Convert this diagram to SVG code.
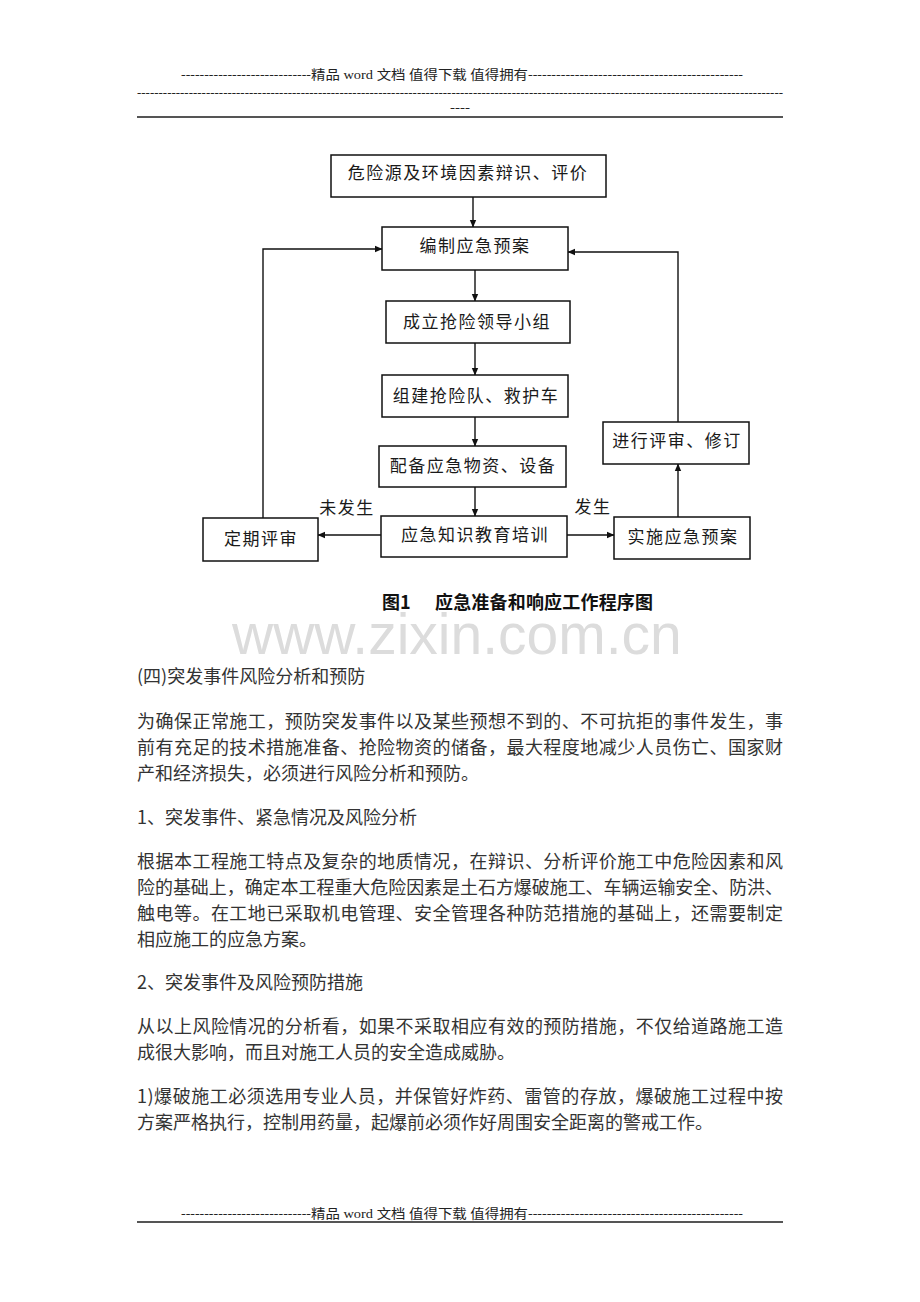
<svg xmlns="http://www.w3.org/2000/svg" width="920" height="1302" viewBox="0 0 920 1302">
<defs>
<marker id="ah" markerWidth="8" markerHeight="8" refX="7" refY="4" orient="auto" markerUnits="userSpaceOnUse">
<path d="M0,0.8 L7.5,4 L0,7.2 Z" fill="#111"/>
</marker>
<style>
.hd{font-family:"Liberation Serif","Noto Sans CJK SC",serif;font-size:13px;fill:#222}
.box rect{fill:#fff;stroke:#111;stroke-width:1.5}
.box text,.lbl{font-family:"Noto Sans CJK SC","Noto Sans CJK JP",sans-serif;font-size:17px;fill:#1a1a1a;text-anchor:middle;letter-spacing:1.5px}
.cn{stroke:#111;stroke-width:1.4;fill:none}
.body{font-family:"Noto Sans CJK SC","Noto Sans CJK JP",sans-serif;font-size:18px;fill:#333}
.cap{font-family:"Noto Sans CJK SC","Noto Sans CJK JP",sans-serif;font-size:18px;font-weight:bold;fill:#111}
.wm{font-family:"Liberation Sans",Arial,sans-serif;font-size:57px;fill:#dcdcdc}
.rule{stroke:#555;stroke-width:2}
</style>
</defs>
<rect width="920" height="1302" fill="#fff"/>

<g id="header">
<text class="hd" y="79"><tspan x="181" textLength="130" lengthAdjust="spacingAndGlyphs">----------------------------</tspan><tspan x="311" textLength="217" lengthAdjust="spacingAndGlyphs">精品 word 文档 值得下载 值得拥有</tspan><tspan x="528" textLength="215" lengthAdjust="spacingAndGlyphs">----------------------------------------------</tspan></text>
<text class="hd" x="137" y="97" textLength="646" lengthAdjust="spacingAndGlyphs">------------------------------------------------------------------------------------------------------------------------------------------------------</text>
<text class="hd" x="450" y="112" textLength="20" lengthAdjust="spacingAndGlyphs">----</text>
<line class="rule" x1="137" y1="117" x2="783" y2="117"/>
</g>

<g id="connectors">
<line class="cn" x1="473" y1="197" x2="473" y2="227" marker-end="url(#ah)"/>
<line class="cn" x1="475" y1="270" x2="475" y2="301" marker-end="url(#ah)"/>
<line class="cn" x1="475" y1="343" x2="475" y2="375" marker-end="url(#ah)"/>
<line class="cn" x1="475" y1="417" x2="475" y2="446" marker-end="url(#ah)"/>
<line class="cn" x1="475" y1="487" x2="475" y2="516" marker-end="url(#ah)"/>
<line class="cn" x1="381" y1="535" x2="318" y2="535" marker-end="url(#ah)"/>
<line class="cn" x1="567" y1="535" x2="614" y2="535" marker-end="url(#ah)"/>
<line class="cn" x1="678" y1="517" x2="678" y2="464" marker-end="url(#ah)"/>
<polyline class="cn" points="263,518 263,249 382,249" marker-end="url(#ah)"/>
<polyline class="cn" points="678,422 678,252 568,252" marker-end="url(#ah)"/>
<text class="lbl" x="347" y="514">未发生</text>
<text class="lbl" x="593" y="513">发生</text>
</g>

<g id="n1" class="box"><rect x="331" y="155" width="275" height="42"/><text x="468" y="179">危险源及环境因素辩识、评价</text></g>
<g id="n2" class="box"><rect x="382" y="227" width="186" height="43"/><text x="475" y="252">编制应急预案</text></g>
<g id="n3" class="box"><rect x="386" y="301" width="184" height="42"/><text x="477" y="328">成立抢险领导小组</text></g>
<g id="n4" class="box"><rect x="382" y="375" width="186" height="42"/><text x="476" y="402">组建抢险队、救护车</text></g>
<g id="n5" class="box"><rect x="379" y="446" width="187" height="41"/><text x="473" y="472">配备应急物资、设备</text></g>
<g id="n6" class="box"><rect x="381" y="516" width="186" height="41"/><text x="475" y="541">应急知识教育培训</text></g>
<g id="n7" class="box"><rect x="203" y="518" width="115" height="43"/><text x="261" y="545">定期评审</text></g>
<g id="n8" class="box"><rect x="614" y="517" width="136" height="42"/><text x="683" y="543">实施应急预案</text></g>
<g id="n9" class="box"><rect x="603" y="422" width="146" height="42"/><text x="677" y="447">进行评审、修订</text></g>

<g id="caption">
<text class="cap" y="609"><tspan x="382">图1</tspan><tspan x="435" textLength="218" lengthAdjust="spacing">应急准备和响应工作程序图</tspan></text>
</g>

<text class="wm" x="232" y="654">www.zixin.com.cn</text>

<g id="body">
<text class="body" x="137" y="683">(四)突发事件风险分析和预防</text>
<text class="body" x="137" y="728" textLength="646" lengthAdjust="spacing">为确保正常施工，预防突发事件以及某些预想不到的、不可抗拒的事件发生，事</text>
<text class="body" x="137" y="754" textLength="646" lengthAdjust="spacing">前有充足的技术措施准备、抢险物资的储备，最大程度地减少人员伤亡、国家财</text>
<text class="body" x="137" y="780">产和经济损失，必须进行风险分析和预防。</text>
<text class="body" x="137" y="824">1、突发事件、紧急情况及风险分析</text>
<text class="body" x="137" y="868" textLength="646" lengthAdjust="spacing">根据本工程施工特点及复杂的地质情况，在辩识、分析评价施工中危险因素和风</text>
<text class="body" x="137" y="894" textLength="646" lengthAdjust="spacingAndGlyphs">险的基础上，确定本工程重大危险因素是土石方爆破施工、车辆运输安全、防洪、</text>
<text class="body" x="137" y="920" textLength="646" lengthAdjust="spacing">触电等。在工地已采取机电管理、安全管理各种防范措施的基础上，还需要制定</text>
<text class="body" x="137" y="946">相应施工的应急方案。</text>
<text class="body" x="137" y="989">2、突发事件及风险预防措施</text>
<text class="body" x="137" y="1033" textLength="646" lengthAdjust="spacing">从以上风险情况的分析看，如果不采取相应有效的预防措施，不仅给道路施工造</text>
<text class="body" x="137" y="1059">成很大影响，而且对施工人员的安全造成威胁。</text>
<text class="body" x="137" y="1103" textLength="646" lengthAdjust="spacing">1)爆破施工必须选用专业人员，并保管好炸药、雷管的存放，爆破施工过程中按</text>
<text class="body" x="137" y="1129">方案严格执行，控制用药量，起爆前必须作好周围安全距离的警戒工作。</text>
</g>

<g id="footer">
<text class="hd" y="1218"><tspan x="181" textLength="130" lengthAdjust="spacingAndGlyphs">----------------------------</tspan><tspan x="311" textLength="217" lengthAdjust="spacingAndGlyphs">精品 word 文档 值得下载 值得拥有</tspan><tspan x="528" textLength="215" lengthAdjust="spacingAndGlyphs">----------------------------------------------</tspan></text>
<line class="rule" x1="137" y1="1222" x2="783" y2="1222"/>
</g>
</svg>
